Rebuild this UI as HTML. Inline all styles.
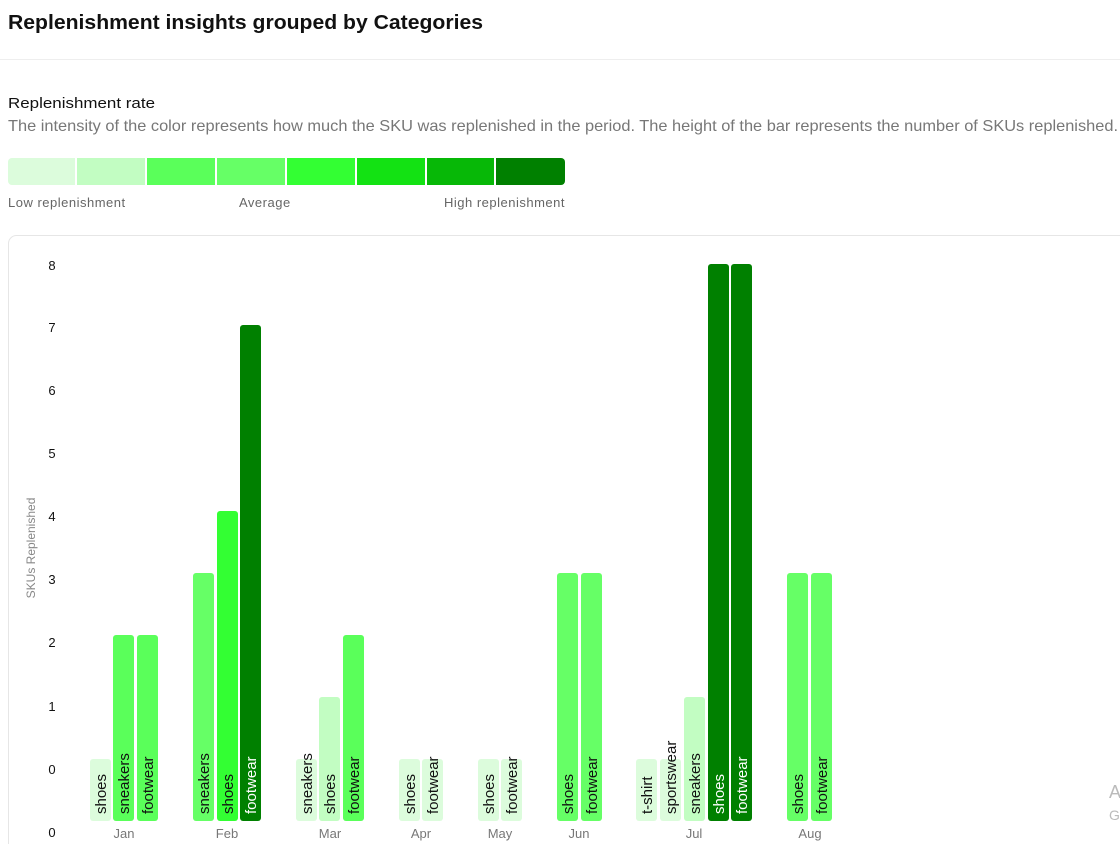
<!DOCTYPE html>
<html><head><meta charset="utf-8"><style>
html,body{margin:0;padding:0;background:#fff;width:1120px;height:844px;overflow:hidden}
svg{display:block;font-family:"Liberation Sans",sans-serif}
</style></head><body>
<svg width="1120" height="844" viewBox="0 0 1120 844" xmlns="http://www.w3.org/2000/svg">
<defs><clipPath id="lc"><rect x="8" y="158" width="557" height="27" rx="4"/></clipPath></defs>
<text x="8" y="29" font-size="20" font-weight="bold" fill="#111" textLength="475" lengthAdjust="spacingAndGlyphs">Replenishment insights grouped by Categories</text>
<line x1="0" y1="59.5" x2="1120" y2="59.5" stroke="#eee"/>
<text x="8" y="108" font-size="15" fill="#111" textLength="147" lengthAdjust="spacingAndGlyphs">Replenishment rate</text>
<text x="8" y="131" font-size="16" fill="#777" textLength="1110" lengthAdjust="spacingAndGlyphs">The intensity of the color represents how much the SKU was replenished in the period. The height of the bar represents the number of SKUs replenished.</text>
<g clip-path="url(#lc)">
<rect x="8" y="158" width="67" height="27" fill="#dcfcdc"/>
<rect x="77" y="158" width="68" height="27" fill="#c2fdc2"/>
<rect x="147" y="158" width="68" height="27" fill="#5aff5a"/>
<rect x="217" y="158" width="68" height="27" fill="#66ff66"/>
<rect x="287" y="158" width="68" height="27" fill="#33ff33"/>
<rect x="357" y="158" width="68" height="27" fill="#13e213"/>
<rect x="427" y="158" width="67" height="27" fill="#07b807"/>
<rect x="496" y="158" width="69" height="27" fill="#008000"/>
</g>
<text x="8" y="207" font-size="13" fill="#666" letter-spacing="0.5">Low replenishment</text>
<text x="239" y="207" font-size="13" fill="#666" letter-spacing="0.5">Average</text>
<text x="565" y="207" font-size="13" fill="#666" letter-spacing="0.5" text-anchor="end">High replenishment</text>
<rect x="8.5" y="235.5" width="1130" height="640" rx="8" fill="none" stroke="#e6e6e6"/>
<g font-size="13" fill="#111" text-anchor="middle">
<text x="52" y="270">8</text><text x="52" y="332">7</text><text x="52" y="395">6</text>
<text x="52" y="458">5</text><text x="52" y="521">4</text><text x="52" y="584">3</text>
<text x="52" y="647">2</text><text x="52" y="711">1</text><text x="52" y="774">0</text>
<text x="52" y="837">0</text>
</g>
<text transform="translate(35,548) rotate(-90)" font-size="12" fill="#888" text-anchor="middle">SKUs Replenished</text>
<g font-size="13" fill="#777" text-anchor="middle">
<text x="124" y="838">Jan</text><text x="227" y="838">Feb</text><text x="330" y="838">Mar</text>
<text x="421" y="838">Apr</text><text x="500" y="838">May</text><text x="579" y="838">Jun</text>
<text x="694" y="838">Jul</text><text x="810" y="838">Aug</text>
</g>
<g>
<rect x="90" y="759" width="21" height="62" rx="3" fill="#dcfcdc"/>
<rect x="113" y="635" width="21" height="186" rx="3" fill="#5aff5a"/>
<rect x="137" y="635" width="21" height="186" rx="3" fill="#5aff5a"/>
<rect x="193" y="573" width="21" height="248" rx="3" fill="#66ff66"/>
<rect x="217" y="511" width="21" height="310" rx="3" fill="#33ff33"/>
<rect x="240" y="325" width="21" height="496" rx="3" fill="#008000"/>
<rect x="296" y="759" width="21" height="62" rx="3" fill="#dcfcdc"/>
<rect x="319" y="697" width="21" height="124" rx="3" fill="#c2fdc2"/>
<rect x="343" y="635" width="21" height="186" rx="3" fill="#5aff5a"/>
<rect x="399" y="759" width="21" height="62" rx="3" fill="#dcfcdc"/>
<rect x="422" y="759" width="21" height="62" rx="3" fill="#dcfcdc"/>
<rect x="478" y="759" width="21" height="62" rx="3" fill="#dcfcdc"/>
<rect x="501" y="759" width="21" height="62" rx="3" fill="#dcfcdc"/>
<rect x="557" y="573" width="21" height="248" rx="3" fill="#66ff66"/>
<rect x="581" y="573" width="21" height="248" rx="3" fill="#66ff66"/>
<rect x="636" y="759" width="21" height="62" rx="3" fill="#dcfcdc"/>
<rect x="660" y="759" width="21" height="62" rx="3" fill="#dcfcdc"/>
<rect x="684" y="697" width="21" height="124" rx="3" fill="#c2fdc2"/>
<rect x="708" y="264" width="21" height="557" rx="3" fill="#008000"/>
<rect x="731" y="264" width="21" height="557" rx="3" fill="#008000"/>
<rect x="787" y="573" width="21" height="248" rx="3" fill="#66ff66"/>
<rect x="811" y="573" width="21" height="248" rx="3" fill="#66ff66"/>
</g>
<g font-size="15" fill="#111">
<text transform="translate(106,814) rotate(-90)">shoes</text>
<text transform="translate(129,814) rotate(-90)">sneakers</text>
<text transform="translate(153,814) rotate(-90)">footwear</text>
<text transform="translate(209,814) rotate(-90)">sneakers</text>
<text transform="translate(233,814) rotate(-90)">shoes</text>
<text transform="translate(256,814) rotate(-90)" fill="#fff">footwear</text>
<text transform="translate(312,814) rotate(-90)">sneakers</text>
<text transform="translate(335,814) rotate(-90)">shoes</text>
<text transform="translate(359,814) rotate(-90)">footwear</text>
<text transform="translate(415,814) rotate(-90)">shoes</text>
<text transform="translate(438,814) rotate(-90)">footwear</text>
<text transform="translate(494,814) rotate(-90)">shoes</text>
<text transform="translate(517,814) rotate(-90)">footwear</text>
<text transform="translate(573,814) rotate(-90)">shoes</text>
<text transform="translate(597,814) rotate(-90)">footwear</text>
<text transform="translate(652,814) rotate(-90)">t-shirt</text>
<text transform="translate(676,814) rotate(-90)">sportswear</text>
<text transform="translate(700,814) rotate(-90)">sneakers</text>
<text transform="translate(724,814) rotate(-90)" fill="#fff">shoes</text>
<text transform="translate(747,814) rotate(-90)" fill="#fff">footwear</text>
<text transform="translate(803,814) rotate(-90)">shoes</text>
<text transform="translate(827,814) rotate(-90)">footwear</text>
</g>
<text x="1109" y="798" font-size="18" fill="#bbb">A</text>
<text x="1109" y="820" font-size="14" fill="#bbb">G</text>
</svg>
</body></html>
